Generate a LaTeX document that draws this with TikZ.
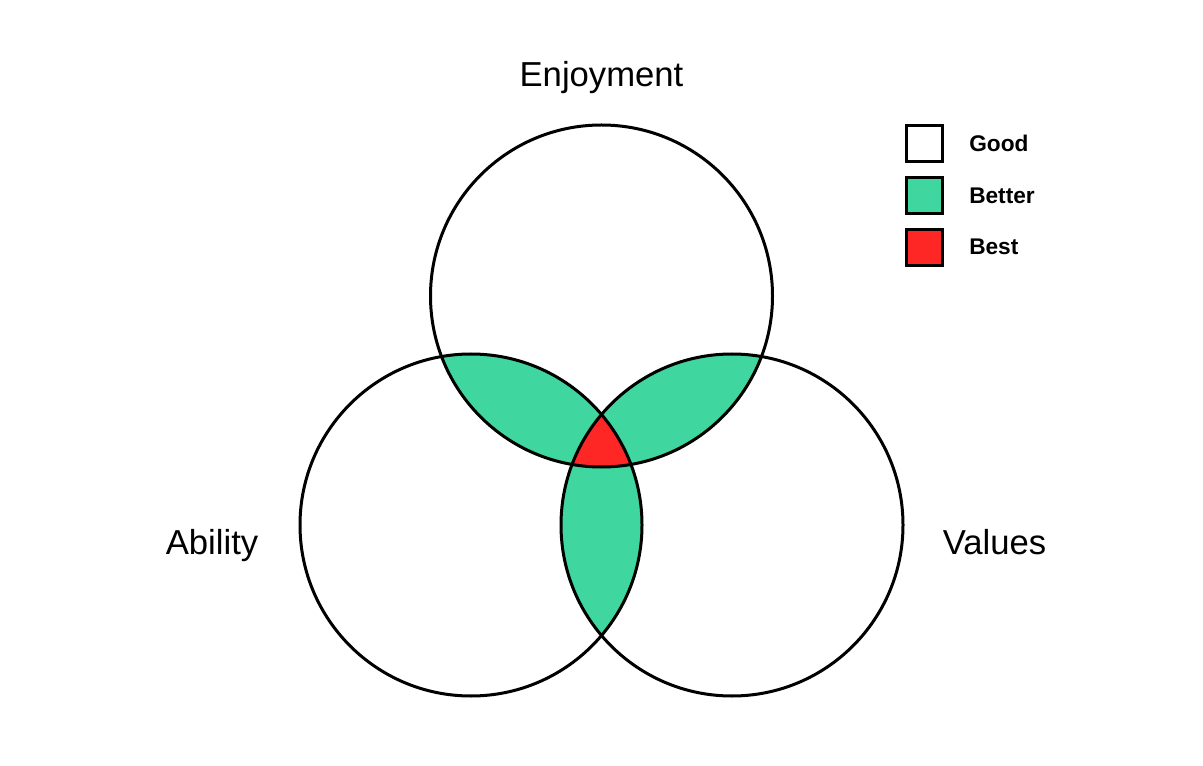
\documentclass[tikz,border=0pt]{standalone}
\usepackage{fontspec}
\setmainfont{Liberation Sans}
\usepackage{tikz}
\usetikzlibrary{positioning}

\definecolor{better}{HTML}{40D69F}
\definecolor{best}{HTML}{FF2626}

\begin{document}
\begin{tikzpicture}[x=0.75pt,y=-0.75pt,
    ring/.style={draw=black,line width=2.25pt},
    swatch/.style={draw=black,line width=2.25pt,minimum size=27pt,inner sep=0pt},
    title/.style={font=\fontsize{26}{30}\selectfont,anchor=base},
    key/.style={font=\bfseries\fontsize{17}{20}\selectfont,anchor=base west,inner sep=0pt}]
    \def\R{128.25pt}
    \useasboundingbox (0,0) rectangle (1203,766);

    \coordinate (E) at (601.5,296);
    \coordinate (A) at (471,525);
    \coordinate (V) at (732,525);

    % pairwise overlaps
    \begin{scope}
      \clip (E) circle (\R);
      \fill [better] (A) circle (\R);
      \fill [better] (V) circle (\R);
    \end{scope}
    \begin{scope}
      \clip (A) circle (\R);
      \fill [better] (V) circle (\R);
    \end{scope}
    % all three
    \begin{scope}
      \clip (E) circle (\R);
      \clip (A) circle (\R);
      \fill [best] (V) circle (\R);
    \end{scope}

    \draw [ring] (E) circle (\R);
    \draw [ring] (A) circle (\R);
    \draw [ring] (V) circle (\R);

    \node [title] (enjoy) at (601.5,87) {Enjoyment};
    \node [title] (ability) at (212,554) {Ability};
    \node [title] (values) at (994.5,554) {Values};

    \node [swatch,fill=white]  (good)   at (924.5,143.5) {};
    \node [swatch,fill=better] (better) at (924.5,195.5) {};
    \node [swatch,fill=best]   (best)   at (924.5,247.5) {};

    \node [key] (goodtxt)   at (969,152) {Good};
    \node [key] (bettertxt) at (969,204) {Better};
    \node [key] (besttxt)   at (969,255) {Best};
\end{tikzpicture}
\end{document}
